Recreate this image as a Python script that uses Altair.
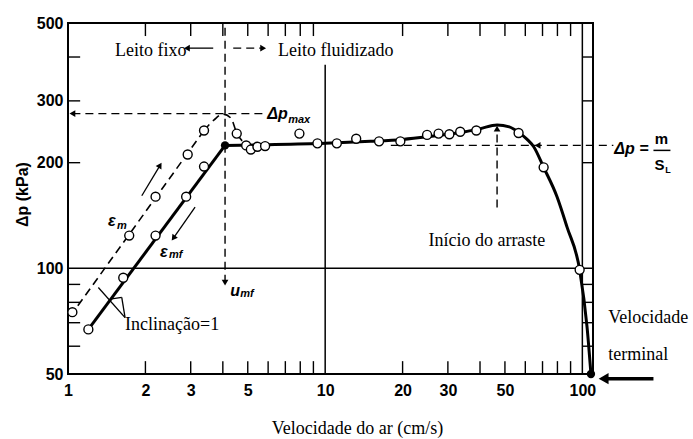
import altair as alt
import pandas as pd

# ---------------- data ----------------
# open circles, rising flow (dashed curve, eps_m)
rise_x = [1.04, 1.73, 2.19, 2.92, 3.38]
rise_y = [75, 124, 160, 211, 247]
# open circles, falling flow (solid curve, eps_mf)
fall_x = [1.20, 1.64, 2.19, 2.88, 3.38]
fall_y = [67, 94, 124, 160, 195]
# open circles, fluidized region
fluid_x = [4.53, 4.93, 5.14, 5.45, 5.84, 7.94, 9.33, 11.1, 13.2, 16.2, 19.6,
           24.9, 27.6, 30.4, 33.5, 38.7, 56.5, 70.7, 97.6]
fluid_y = [242, 224, 218, 222, 223, 242, 227, 227, 234, 230, 230,
           240, 242, 241, 245, 247, 243, 194, 99]
# filled points (u_mf and terminal velocity)
dot_x = [4.08, 108]
dot_y = [224, 50]

# dashed curve (rising, eps_m)
em_x = [1.02, 3.38]
em_y = [73, 247]
hump_x = [3.38, 3.7, 4.0, 4.3, 4.53, 4.8]
hump_y = [247, 265, 275, 268, 243, 229]
# solid curve (falling, eps_mf)
emf_x = [1.20, 4.08]
emf_y = [67, 224]
curve_x = [4.08, 6, 10, 15, 20, 25, 30, 35, 40, 46.6, 52, 56.5, 61, 64.7,
           70.7, 79.7, 87.2, 97.6, 104.3, 108]
curve_y = [224, 225, 227, 230, 233, 237, 241, 245, 250, 256, 253, 244, 233, 222,
           194, 160, 131, 99, 68, 50]

# axis labels and minor ticks
x_labels = [1, 2, 3, 5, 10, 20, 30, 50, 100]
y_labels = [50, 100, 200, 300, 500]
minor_x = [2, 3, 4, 5, 6, 7, 8, 9, 20, 30, 40, 50, 60, 70, 80, 90]
minor_y = [60, 70, 80, 90, 200, 300, 400]

# reference lines (x, x2, y, y2)
grid_seg = [(1, 110, 100, 100), (10, 10, 50, 380), (100, 100, 50, 500)]
dash_seg = [(1.04, 5.74, 276, 276),   # delta p max
            (4.08, 4.08, 91, 500),    # u_mf
            (46.6, 46.6, 149, 250),   # inicio do arraste
            (18, 132, 224, 224),      # delta p = m/S_L
            (4.39, 5.74, 424, 424)]   # leito fluidizado arrow
thin_seg = [(2.90, 3.67, 424, 424),   # leito fixo arrow
            (1.936, 2.28, 161, 196.6),
            (3.12, 2.57, 149.4, 122),
            (1.312, 1.667, 88.2, 72.4),
            (1.618, 1.667, 82.6, 72.4),
            (1.457, 1.618, 81.7, 82.6)]
frac_seg = [(189, 220, 216.8, 216.8)]
thick_seg = [(121, 189, 48.5, 48.5)]

# arrowheads
head_x = [1.04, 4.08, 46.6, 67, 2.90, 5.74, 2.28, 2.57]
head_y = [276, 91, 250, 224, 424, 424, 196.6, 122]
head_shape = ["triangle-left", "triangle-down", "triangle-up", "triangle-left",
              "triangle-left", "triangle-right", "triangle-up", "triangle-down"]
head_angle = [0, 0, 0, 0, 0, 0, 31, 36]

# texts
serif_t = ["Leito fixo", "Leito fluidizado", "Início do arraste", "Inclinação=1",
           "Velocidade", "terminal"]
serif_x = [1.524, 6.56, 25.2, 1.667, 126, 126]
serif_y = [416, 416, 120, 69, 72.3, 56.6]
math_t = ["Δp", "ε", "ε", "u", "Δp ="]
math_x = [5.95, 1.43, 2.28, 4.27, 133.2]
math_y = [276, 136, 111.5, 86.3, 218.3]
sub_t = ["max", "m", "mf", "mf"]
sub_x = [7.18, 1.551, 2.47, 4.67]
sub_y = [264, 132, 109.4, 84.6]
frac_t = ["m", "S"]
frac_x = [203, 199.4]
frac_y = [233, 196.6]
subL_t = ["L"]
subL_x = [210]
subL_y = [191]

# ---------------- chart ----------------
XS = alt.Scale(type="log", domain=[1, 110], nice=False)
YS = alt.Scale(type="log", domain=[50, 500], nice=False)

AX = alt.Axis(values=x_labels, format="~g", title="Velocidade do ar (cm/s)",
              ticks=False, domain=False, grid=False, labelFlush=False,
              labelOverlap=False, labelFont="Liberation Sans",
              labelFontWeight="bold", labelFontSize=16, labelPadding=8,
              labelColor="black", titleFont="Liberation Serif",
              titleFontSize=18, titleFontWeight="normal", titleColor="black",
              titleX=289, titleY=45)
AY = alt.Axis(values=y_labels, format="~g", title="Δp  (kPa)",
              ticks=False, domain=False, grid=False, labelFlush=False,
              labelOverlap=False, labelFont="Liberation Sans",
              labelFontWeight="bold", labelFontSize=16, labelPadding=5,
              labelColor="black", titleFont="Liberation Sans",
              titleFontSize=16, titleFontWeight="bold", titleColor="black",
              titleX=-46, titleY=171, titleBaseline="middle")


def enc():
    return dict(x=alt.X("x:Q", scale=XS, axis=AX),
                y=alt.Y("y:Q", scale=YS, axis=AY))


def seg_df(segs):
    return pd.DataFrame(segs, columns=["x", "x2", "y", "y2"])


tick_rows = []
for v in minor_y:
    tick_rows.append((1, 1.115, v, v))
    tick_rows.append((100, 110, v, v))
for v in minor_x:
    tick_rows.append((v, v, 50, 54.4))
    tick_rows.append((v, v, 500, 459))


def rules(segs, width, dash=None):
    kw = dict(color="black", strokeWidth=width)
    if dash:
        kw["strokeDash"] = dash
    return alt.Chart(seg_df(segs)).mark_rule(**kw).encode(
        **enc(), x2="x2:Q", y2="y2:Q")


def line(xs, ys, width, dash=None, interp="linear"):
    kw = dict(color="black", strokeWidth=width, interpolate=interp)
    if dash:
        kw["strokeDash"] = dash
    return alt.Chart(pd.DataFrame({"x": xs, "y": ys})).mark_line(**kw).encode(
        **enc(), order="x:Q")


def texts(ts, xs, ys, font, size, weight="normal", style="normal", align="left"):
    df = pd.DataFrame({"x": xs, "y": ys, "t": ts})
    return alt.Chart(df).mark_text(font=font, fontSize=size, fontWeight=weight,
                                   fontStyle=style, align=align, baseline="middle",
                                   color="black").encode(**enc(), text="t:N")


all_x = rise_x + fall_x + fluid_x
all_y = rise_y + fall_y + fluid_y
circles = alt.Chart(pd.DataFrame({"x": all_x, "y": all_y})).mark_point(
    shape="circle", filled=True, fill="white", stroke="black", strokeWidth=1.4,
    size=80, opacity=1).encode(**enc())
dots = alt.Chart(pd.DataFrame({"x": dot_x, "y": dot_y})).mark_point(
    shape="circle", filled=True, color="black", size=70, opacity=1).encode(**enc())

heads = alt.Chart(pd.DataFrame({"x": head_x, "y": head_y, "s": head_shape,
                                "a": head_angle})).mark_point(
    filled=True, color="black", size=45, opacity=1).encode(
    **enc(), shape=alt.Shape("s:N", scale=None), angle=alt.Angle("a:Q", scale=None))
big_head = alt.Chart(pd.DataFrame({"x": [121], "y": [48.5]})).mark_point(
    shape="triangle-left", filled=True, color="black", size=130, opacity=1).encode(**enc())

chart = alt.layer(
    rules(grid_seg, 1.5),
    rules(tick_rows, 1.4),
    rules(dash_seg, 1.4, [8, 5]),
    rules(thin_seg, 1.3),
    rules(frac_seg, 1.5),
    rules(thick_seg, 3.5),
    line(em_x, em_y, 1.6, [8, 5]),
    line(hump_x, hump_y, 1.6, [8, 5], "monotone"),
    line(emf_x, emf_y, 3),
    line(curve_x, curve_y, 3, None, "monotone"),
    circles,
    dots,
    heads,
    big_head,
    texts(serif_t, serif_x, serif_y, "Liberation Serif", 18),
    texts(math_t, math_x, math_y, "Liberation Sans", 16, "bold", "italic"),
    texts(sub_t, sub_x, sub_y, "Liberation Sans", 11, "bold", "italic"),
    texts(frac_t, frac_x, frac_y, "Liberation Sans", 15, "bold", "normal", "center"),
    texts(subL_t, subL_x, subL_y, "Liberation Sans", 9, "bold"),
).properties(
    width=525, height=351,
    padding={"left": 68, "top": 23, "right": 100, "bottom": 65},
    autosize=alt.AutoSizeParams(type="none"),
    background="white",
).configure_view(stroke="black", strokeWidth=2)

chart.save("out.html", embed_options={"renderer": "svg", "actions": False})
